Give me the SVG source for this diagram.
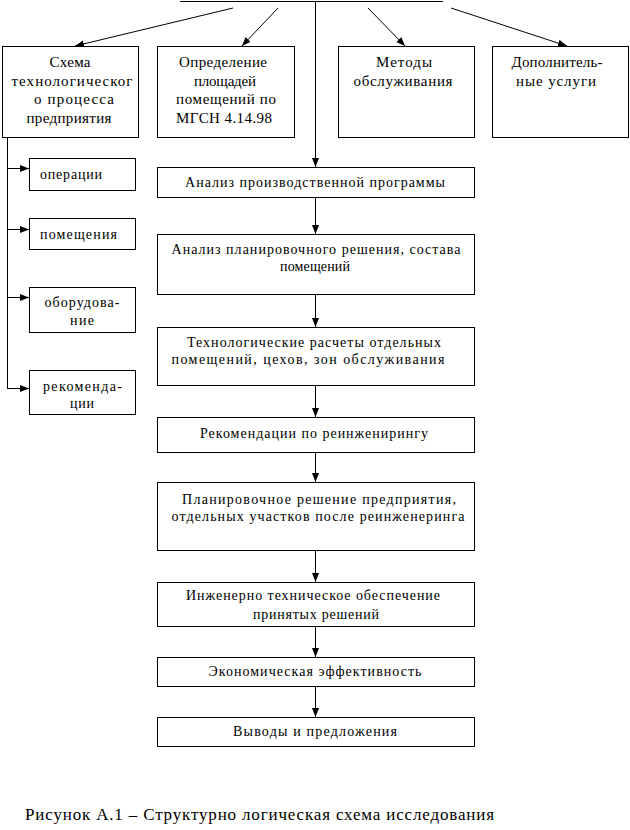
<svg xmlns="http://www.w3.org/2000/svg" width="630" height="830" viewBox="0 0 630 830">
<style>
rect{fill:#fff;stroke:#000;stroke-width:1}
line{stroke:#000;stroke-width:1}
text{font-family:'Liberation Serif','DejaVu Serif',serif;font-size:14px;fill:#000}
.c{text-anchor:middle}
.t{font-size:15px}
.cap{font-size:17px}
</style>
<defs>
<marker id="ah" markerUnits="userSpaceOnUse" markerWidth="10" markerHeight="8" refX="9" refY="4" orient="auto">
<path d="M0,0.5 L9,4 L0,7.5 Z" fill="#000"/>
</marker>
</defs>
<rect width="630" height="830" style="fill:#fff;stroke:none"/>
<g id="connectors">
<line x1="180" y1="1.5" x2="443" y2="1.5"/>
<line x1="233" y1="8" x2="75" y2="46" marker-end="url(#ah)"/>
<line x1="278" y1="8" x2="242" y2="46" marker-end="url(#ah)"/>
<line x1="368" y1="8" x2="405" y2="46" marker-end="url(#ah)"/>
<line x1="451" y1="8" x2="567" y2="46" marker-end="url(#ah)"/>
<line x1="315.5" y1="1" x2="315.5" y2="167" marker-end="url(#ah)"/>
<line x1="7.5" y1="137" x2="7.5" y2="389"/>
<line x1="7.5" y1="168.5" x2="29" y2="168.5" marker-end="url(#ah)"/>
<line x1="7.5" y1="229.5" x2="29" y2="229.5" marker-end="url(#ah)"/>
<line x1="7.5" y1="297.5" x2="29" y2="297.5" marker-end="url(#ah)"/>
<line x1="7.5" y1="388.5" x2="29" y2="388.5" marker-end="url(#ah)"/>
<line x1="315.5" y1="197" x2="315.5" y2="234" marker-end="url(#ah)"/>
<line x1="315.5" y1="294" x2="315.5" y2="327" marker-end="url(#ah)"/>
<line x1="315.5" y1="385" x2="315.5" y2="417" marker-end="url(#ah)"/>
<line x1="315.5" y1="452" x2="315.5" y2="482" marker-end="url(#ah)"/>
<line x1="315.5" y1="550" x2="315.5" y2="582" marker-end="url(#ah)"/>
<line x1="315.5" y1="626" x2="315.5" y2="657" marker-end="url(#ah)"/>
<line x1="315.5" y1="686" x2="315.5" y2="717" marker-end="url(#ah)"/>
</g>
<g id="n-scheme">
<rect x="2.5" y="46.5" width="136" height="91"/>
<text class="c t" x="70" y="67" textLength="41">Схема</text>
<text class="c t" x="72" y="86" textLength="121">технологическог</text>
<text class="c t" x="74" y="104" textLength="80">о процесса</text>
<text class="c t" x="69" y="123" textLength="85">предприятия</text>
</g>
<g id="n-areas">
<rect x="157.5" y="46.5" width="137" height="91"/>
<text class="c t" x="223" y="67" textLength="88">Определение</text>
<text class="c t" x="225" y="86" textLength="62">площадей</text>
<text class="c t" x="226" y="104" textLength="100">помещений по</text>
<text class="c t" x="224" y="123" textLength="96">МГСН 4.14.98</text>
</g>
<g id="n-methods">
<rect x="338.5" y="46.5" width="136" height="91"/>
<text class="c t" x="404" y="67" textLength="56">Методы</text>
<text class="c t" x="403" y="86" textLength="99">обслуживания</text>
</g>
<g id="n-extra">
<rect x="492.5" y="46.5" width="136" height="91"/>
<text class="c t" x="557" y="67" textLength="91">Дополнитель-</text>
<text class="c t" x="556" y="86" textLength="80">ные услуги</text>
</g>
<g id="n-ops">
<rect x="29.5" y="158.5" width="106" height="32"/>
<text x="40" y="179" textLength="62">операции</text>
</g>
<g id="n-rooms">
<rect x="29.5" y="218.5" width="106" height="31"/>
<text x="40" y="239" textLength="77">помещения</text>
</g>
<g id="n-equip">
<rect x="29.5" y="287.5" width="106" height="45"/>
<text class="c" x="82" y="307" textLength="75">оборудова-</text>
<text class="c" x="82" y="325" textLength="24">ние</text>
</g>
<g id="n-recs">
<rect x="29.5" y="370.5" width="106" height="44"/>
<text class="c" x="82.5" y="391" textLength="79">рекоменда-</text>
<text class="c" x="82" y="408" textLength="24">ции</text>
</g>
<g id="n-prog">
<rect x="157.5" y="167.5" width="317" height="30"/>
<text class="c" x="315" y="187" textLength="260">Анализ производственной программы</text>
</g>
<g id="n-plan">
<rect x="157.5" y="234.5" width="317" height="60"/>
<text class="c" x="316" y="254" textLength="289">Анализ планировочного решения, состава</text>
<text class="c" x="315" y="271" textLength="70">помещений</text>
</g>
<g id="n-calc">
<rect x="157.5" y="327.5" width="317" height="58"/>
<text class="c" x="314" y="347" textLength="254">Технологические расчеты отдельных</text>
<text class="c" x="308" y="364" textLength="273">помещений, цехов, зон обслуживания</text>
</g>
<g id="n-reeng">
<rect x="157.5" y="417.5" width="317" height="35"/>
<text class="c" x="314" y="438" textLength="228">Рекомендации по реинженирингу</text>
</g>
<g id="n-layout">
<rect x="157.5" y="482.5" width="317" height="68"/>
<text class="c" x="319" y="504" textLength="274">Планировочное решение предприятия,</text>
<text class="c" x="318" y="521" textLength="293">отдельных участков после реинженеринга</text>
</g>
<g id="n-eng">
<rect x="157.5" y="582.5" width="317" height="44"/>
<text class="c" x="313" y="600" textLength="254">Инженерно техническое обеспечение</text>
<text class="c" x="316" y="619" textLength="126">принятых решений</text>
</g>
<g id="n-econ">
<rect x="157.5" y="657.5" width="317" height="29"/>
<text class="c" x="315" y="676" textLength="213">Экономическая эффективность</text>
</g>
<g id="n-concl">
<rect x="157.5" y="717.5" width="317" height="29"/>
<text class="c" x="315" y="736" textLength="164">Выводы и предложения</text>
</g>
<text class="cap" x="25" y="820" textLength="469">Рисунок А.1 – Структурно логическая схема исследования</text>
</svg>
